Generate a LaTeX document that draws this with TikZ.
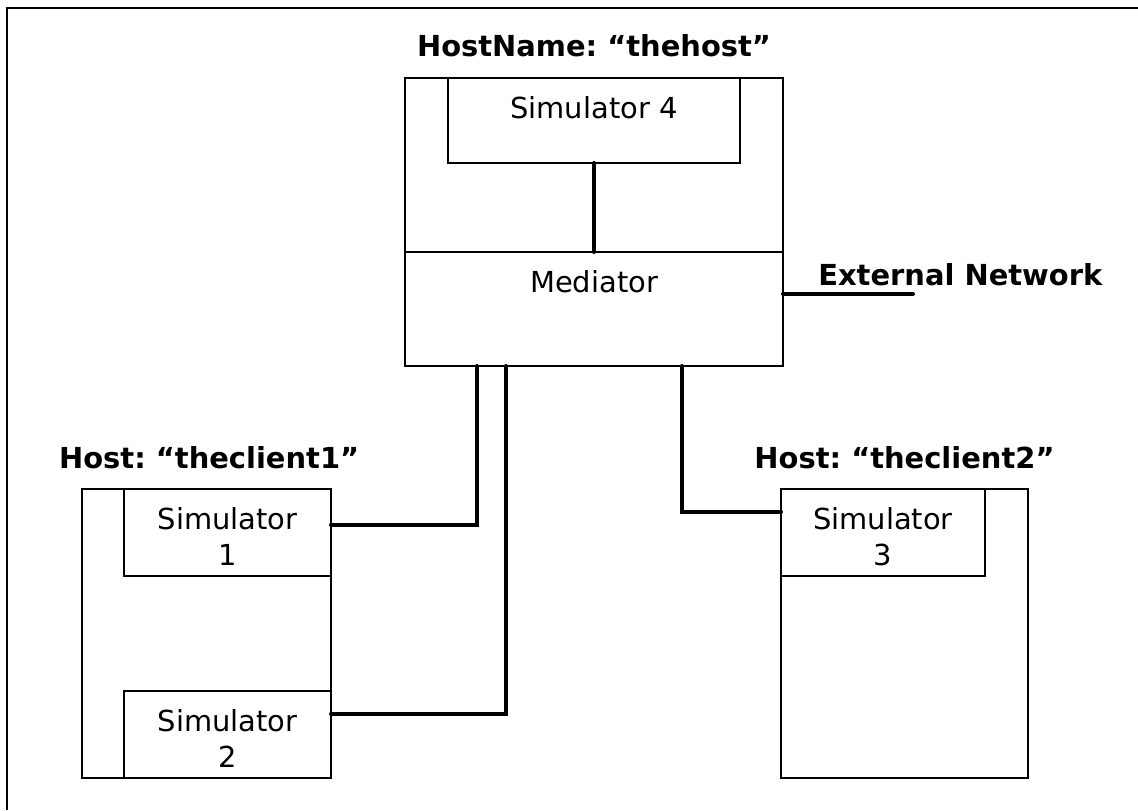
\documentclass[tikz,border=0pt]{standalone}
\usepackage{fontspec}
\setmainfont{DejaVu Sans}
\usetikzlibrary{positioning, calc}
\definecolor{ink}{RGB}{0, 0, 0}
\frenchspacing

\begin{document}
\begin{tikzpicture}[
	x=0.75pt, y=-0.75pt,
	font=\fontsize{21.7}{27}\selectfont,
	% Styles for the host frames, simulator boxes and links
	frameline/.style={draw=ink, line width=1.5pt},
	hostbox/.style={draw=ink, line width=1.3pt, inner sep=0pt, outer sep=0pt},
	simbox/.style={draw=ink, line width=1.3pt, fill=white, inner sep=0pt, outer sep=0pt},
	boxlabel/.style={anchor=north, inner sep=0pt, yshift=-13.5pt, align=center},
	hosttitle/.style={font=\fontsize{21.7}{27}\selectfont\bfseries, inner sep=0pt},
	link/.style={draw=ink, line width=3pt, line cap=round}
	]
	\useasboundingbox (0,0) rectangle (1138,810);
	
	% Page frame (only top and left edges are visible)
	\draw[frameline] (7,810) -- (7,7.5) -- (1138,7.5);
	
	% ==========================================
	% 1. HOST "thehost"
	% ==========================================
	\node[hostbox, minimum width=283.5pt, minimum height=216pt] (host) at (594,222) {};
	\node[simbox, minimum width=219pt, minimum height=63.75pt,
		label={[boxlabel]north:Simulator 4}] (sim4) at (594,120.5) {};
	\node[hostbox, minimum width=283.5pt, minimum height=85.5pt,
		label={[boxlabel]north:Mediator}] (med) at (594,309) {};
	\node[hosttitle, above=15.75pt of host] (hostname) {HostName: “thehost”};
	
	% External network stub
	\node[hosttitle, anchor=base west] (extlabel) at ($(med.east)+(35,-24)$) {External Network};
	\coordinate (extend) at ($(med.east)+(130,-15)$);
	
	% ==========================================
	% 2. HOST "theclient1"
	% ==========================================
	\node[hostbox, minimum width=186.75pt, minimum height=216.75pt] (client1) at (206.5,633.5) {};
	\node[simbox, minimum width=155.25pt, minimum height=65.25pt,
		label={[boxlabel]north:Simulator\\1}] (sim1) at (227.5,532.5) {};
	\node[simbox, minimum width=155.25pt, minimum height=65.25pt,
		label={[boxlabel]north:Simulator\\2}] (sim2) at (227.5,734.5) {};
	\node[hosttitle, above=15pt of client1, xshift=2pt] (client1name) {Host: “theclient1”};
	
	% ==========================================
	% 3. HOST "theclient2"
	% ==========================================
	\node[hostbox, minimum width=185.25pt, minimum height=216.75pt] (client2) at (904.5,633.5) {};
	\node[simbox, minimum width=153pt, minimum height=65.25pt,
		label={[boxlabel]north:Simulator\\3}] (sim3) at (883,532.5) {};
	\node[hosttitle, above=15pt of client2] (client2name) {Host: “theclient2”};
	
	% ==========================================
	% 4. LINKS
	% ==========================================
	\draw[link] (sim4.south) -- (med.north);
	\draw[link] ($(med.east)+(0,-15)$) -- (extend);
	\draw[link] ($(med.south west)+(72,0)$) |- ($(sim1.east)+(0,-8)$);
	\draw[link] ($(med.south west)+(101,0)$) |- ($(sim2.east)+(0,-21)$);
	\draw[link] ($(med.south west)+(277,0)$) |- ($(sim3.west)+(0,-21)$);
	
\end{tikzpicture}
\end{document}
